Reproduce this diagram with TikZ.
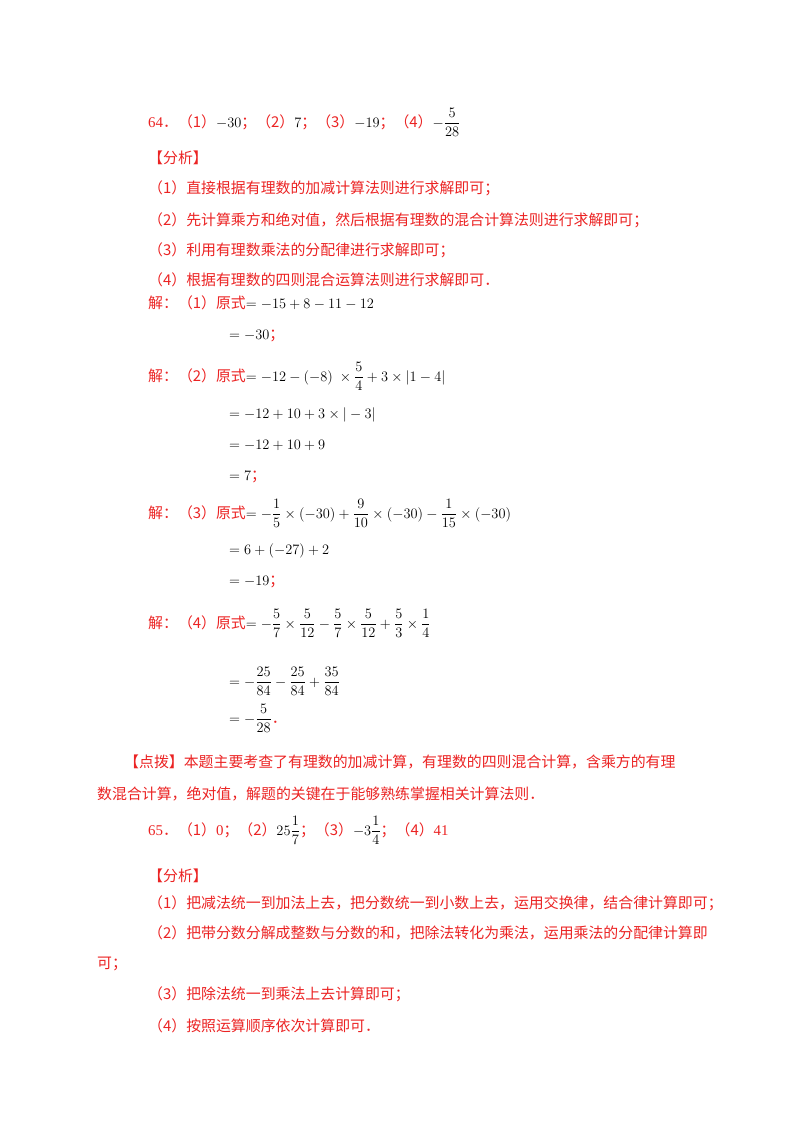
\documentclass[tikz,border=0pt]{standalone}
\usepackage{amsmath}
\usepackage{fontspec}
\setmainfont{Liberation Serif}
\newfontfamily\cjk{Noto Sans CJK SC}
\definecolor{rd}{RGB}{235,35,35}
\newcommand{\R}[1]{{\color{rd}\cjk #1}}
\newcommand{\Rn}[1]{{\color{rd}#1}}
\begin{document}
\begin{tikzpicture}[x=1pt,y=-1pt,every node/.style={anchor=base west,inner sep=0pt,font=\fontsize{14.9}{17}\selectfont}]
\useasboundingbox (0,0) rectangle (800,1132);
\node (a0) at (148,127) {\Rn{64}\R{．（1）}$-30$\R{；（2）}$7$\R{；（3）}$-19$\R{；（4）}$-\dfrac{5}{28}$};
\node (a1) at (148,163) {\R{【分析】}};
\node (a2) at (148,193) {\R{（1）直接根据有理数的加减计算法则进行求解即可；}};
\node (a3) at (148,225) {\R{（2）先计算乘方和绝对值，然后根据有理数的混合计算法则进行求解即可；}};
\node (a4) at (148,255) {\R{（3）利用有理数乘法的分配律进行求解即可；}};
\node (a5) at (148,285) {\R{（4）根据有理数的四则混合运算法则进行求解即可．}};
\node (b1) at (148,308) {\R{解：（1）原式}$=-15+8-11-12$};
\node (b2) at (229,339) {$=-30$\R{；}};
\node (c1) at (148,381) {\R{解：（2）原式}$=-12-(-8)\ \times\dfrac{5}{4}+3\times|1-4|$};
\node (c2) at (229,418) {$=-12+10+3\times|-3|$};
\node (c3) at (229,449) {$=-12+10+9$};
\node (c4) at (229,480) {$=7$\R{；}};
\node (d1) at (148,518) {\R{解：（3）原式}$=-\dfrac{1}{5}\times(-30)+\dfrac{9}{10}\times(-30)-\dfrac{1}{15}\times(-30)$};
\node (d2) at (229,554) {$=6+(-27)+2$};
\node (d3) at (229,585) {$=-19$\R{；}};
\node (e1) at (148,628) {\R{解：（4）原式}$=-\dfrac{5}{7}\times\dfrac{5}{12}-\dfrac{5}{7}\times\dfrac{5}{12}+\dfrac{5}{3}\times\dfrac{1}{4}$};
\node (e2) at (229,686) {$=-\dfrac{25}{84}-\dfrac{25}{84}+\dfrac{35}{84}$};
\node (e3) at (229,723) {$=-\dfrac{5}{28}$\R{．}};
\node (f1) at (124,767) {\R{【点拨】本题主要考查了有理数的加减计算，有理数的四则混合计算，含乘方的有理}};
\node (f2) at (97,799) {\R{数混合计算，绝对值，解题的关键在于能够熟练掌握相关计算法则．}};
\node (g0) at (148,835) {\Rn{65}\R{．（1）}\Rn{0}\R{；（2）}$25\dfrac{1}{7}$\R{；（3）}$-3\dfrac{1}{4}$\R{；（4）}\Rn{41}};
\node (g1) at (148,881) {\R{【分析】}};
\node (g2) at (148,908) {\R{（1）把减法统一到加法上去，把分数统一到小数上去，运用交换律，结合律计算即可；}};
\node (g3) at (148,938) {\R{（2）把带分数分解成整数与分数的和，把除法转化为乘法，运用乘法的分配律计算即}};
\node (g4) at (97,968) {\R{可；}};
\node (g5) at (148,999) {\R{（3）把除法统一到乘法上去计算即可；}};
\node (g6) at (148,1031) {\R{（4）按照运算顺序依次计算即可．}};
\end{tikzpicture}
\end{document}
